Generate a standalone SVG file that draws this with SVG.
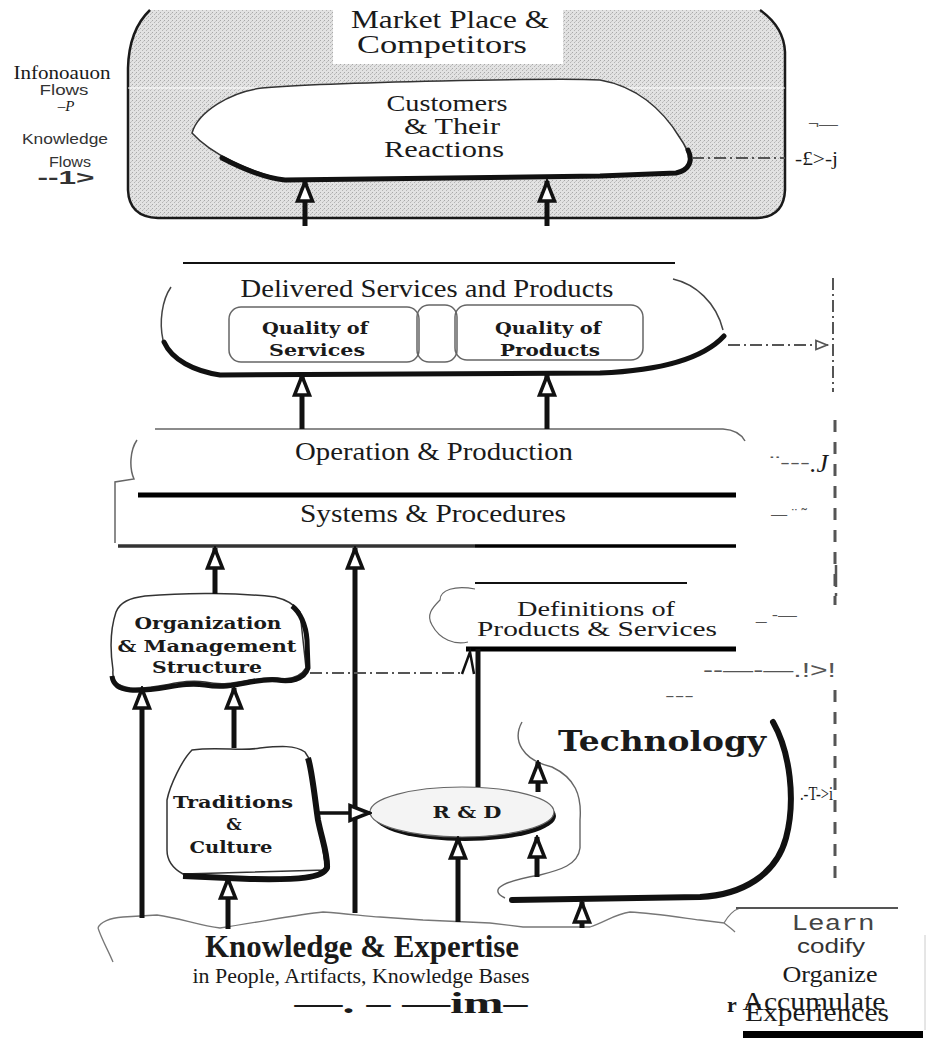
<svg xmlns="http://www.w3.org/2000/svg" width="926" height="1038" viewBox="0 0 926 1038">
  <defs>
    <style>
      .serif { font-family: "Liberation Serif", "Times New Roman", serif; fill: #1a1a1a; }
      .bold { font-family: "DejaVu Serif", "Liberation Serif", serif; font-weight: bold; fill: #1a1a1a; }
      .sans { font-family: "Liberation Sans", Arial, sans-serif; fill: #333; }
      .mono { font-family: "Liberation Mono", "Courier New", monospace; fill: #444; }
      .junk { font-family: "Liberation Sans", Arial, sans-serif; fill: #555; }
      .thin { fill: none; stroke: #444; stroke-width: 1.5; }
      .thick { fill: none; stroke: #111; stroke-width: 5; stroke-linecap: round; stroke-linejoin: round; }
      .shaft { fill: none; stroke: #111; stroke-width: 5; }
      .flow { fill: none; stroke: #555; stroke-width: 2; stroke-dasharray: 12 4 2 4; }
      .vdash { fill: none; stroke: #555; stroke-width: 3; stroke-dasharray: 12 10; }
      .rule { fill: none; stroke: #111; stroke-width: 2; }
      .inner { fill: none; stroke: #666; stroke-width: 1.5; }
    </style>
    <!-- stippled screen used for the market place background -->
    <pattern id="stipple" width="4" height="4" patternUnits="userSpaceOnUse">
      <rect width="4" height="4" fill="#e2e2e2"/>
      <rect x="0" y="0" width="1" height="1" fill="#a8a8a8"/>
      <rect x="2" y="2" width="1" height="1" fill="#b4b4b4"/>
      <rect x="3" y="1" width="1" height="1" fill="#c6c6c6"/>
    </pattern>
    <marker id="head" viewBox="-23 -11 25 22" markerWidth="25" markerHeight="22" refX="0" refY="0" orient="auto" markerUnits="userSpaceOnUse">
      <path d="M-1,0 L-20,-7.5 L-20,7.5 Z" fill="#fff" stroke="#111" stroke-width="3.5" stroke-linejoin="miter"/>
    </marker>
    <marker id="smallhead" viewBox="-14 -7 16 14" markerWidth="16" markerHeight="14" refX="0" refY="0" orient="auto" markerUnits="userSpaceOnUse">
      <path d="M-1,0 L-12,-4.5 L-12,4.5 Z" fill="#fff" stroke="#555" stroke-width="1.8"/>
    </marker>
  </defs>

  <rect width="926" height="1038" fill="#fff"/>

  <!-- legend on the left -->
  <g id="legend">
    <text class="serif" x="62" y="79" font-size="18" text-anchor="middle" textLength="97" lengthAdjust="spacingAndGlyphs" fill="#333">Infonoauon</text>
    <text class="sans" x="64" y="95" font-size="15" text-anchor="middle" textLength="49" lengthAdjust="spacingAndGlyphs">Flows</text>
    <text class="serif" x="66" y="111" font-size="15" font-style="italic" text-anchor="middle" fill="#444">–P</text>
    <text class="sans" x="65" y="144" font-size="15" text-anchor="middle" textLength="86" lengthAdjust="spacingAndGlyphs">Knowledge</text>
    <text class="sans" x="70" y="167" font-size="15" text-anchor="middle" textLength="42" lengthAdjust="spacingAndGlyphs">Flows</text>
    <text class="sans" x="66" y="184" font-size="18" font-weight="bold" text-anchor="middle" textLength="57" lengthAdjust="spacingAndGlyphs" fill="#111">--1&gt;</text>
  </g>

  <!-- market place frame -->
  <g id="market">
    <path d="M150,10 Q129,30 128,68 L128,190 Q129,217 158,218 L757,218 Q784,217 785,190 L785,52 Q784,27 760,10 Z" fill="url(#stipple)"/>
    <path d="M150,10 Q129,30 128,68 L128,190 Q129,217 158,218 L757,218 Q784,217 785,190 L785,52 Q784,27 760,10" fill="none" stroke="#1a1a1a" stroke-width="2.5"/>
    <rect x="333" y="0" width="230" height="64" fill="#fff"/>
    <line x1="128" y1="88" x2="785" y2="88" stroke="#fff" stroke-width="1"/>
    <text class="serif" x="450" y="28" font-size="26" text-anchor="middle" textLength="198" lengthAdjust="spacingAndGlyphs">Market Place &amp;</text>
    <text class="serif" x="442" y="53" font-size="26" text-anchor="middle" textLength="170" lengthAdjust="spacingAndGlyphs">Competitors</text>
  </g>

  <!-- customers -->
  <g id="customers">
    <path d="M192,133 C198,112 230,92 262,88 C330,82 560,78 600,80 C635,86 662,108 680,138 C692,155 692,168 678,173 L600,176 L285,180 C250,172 212,155 192,133 Z" fill="#fff" stroke="#333" stroke-width="1.5"/>
    <path d="M222,158 C245,170 265,178 285,180 L600,176 L676,173 C690,170 693,160 688,150" class="thick"/>
    <text class="serif" x="447" y="111" font-size="24" text-anchor="middle" textLength="121" lengthAdjust="spacingAndGlyphs">Customers</text>
    <text class="serif" x="452" y="134" font-size="24" text-anchor="middle" textLength="96" lengthAdjust="spacingAndGlyphs">&amp; Their</text>
    <text class="serif" x="444" y="157" font-size="24" text-anchor="middle" textLength="120" lengthAdjust="spacingAndGlyphs">Reactions</text>
  </g>

  <!-- delivered services and products -->
  <g id="delivered">
    <line x1="183" y1="263" x2="675" y2="263" class="rule"/>
    <path d="M171,287 C162,300 159,322 163,340" class="thin"/>
    <path d="M673,279 C695,284 716,302 723,330" class="thin"/>
    <path d="M164,342 C172,360 194,371 220,375 L600,373 C650,371 700,362 724,336" class="thick"/>
    <text class="serif" x="427" y="297" font-size="25" text-anchor="middle" textLength="373" lengthAdjust="spacingAndGlyphs">Delivered Services and Products</text>
    <rect x="229" y="307" width="190" height="55" rx="12" class="inner"/>
    <rect x="417" y="305" width="40" height="57" rx="12" class="inner"/>
    <rect x="455" y="305" width="188" height="55" rx="12" class="inner"/>
    <text class="bold" x="315" y="334" font-size="17" text-anchor="middle" textLength="106" lengthAdjust="spacingAndGlyphs">Quality of</text>
    <text class="bold" x="317" y="356" font-size="17" text-anchor="middle" textLength="96" lengthAdjust="spacingAndGlyphs">Services</text>
    <text class="bold" x="548" y="334" font-size="17" text-anchor="middle" textLength="106" lengthAdjust="spacingAndGlyphs">Quality of</text>
    <text class="bold" x="550" y="356" font-size="17" text-anchor="middle" textLength="100" lengthAdjust="spacingAndGlyphs">Products</text>
  </g>

  <!-- operation & production / systems & procedures -->
  <g id="operation">
    <path d="M155,429 L723,429 Q739,430 745,441" fill="none" stroke="#666" stroke-width="1.5"/>
    <path d="M137,440 C130,450 129,468 134,479 L115,482 L115,543" fill="none" stroke="#666" stroke-width="1.5"/>
    <line x1="138" y1="495" x2="736" y2="495" stroke="#000" stroke-width="5"/>
    <line x1="118" y1="546" x2="475" y2="546" stroke="#333" stroke-width="3.5"/>
    <line x1="475" y1="546" x2="736" y2="546" stroke="#000" stroke-width="3.5"/>
    <text class="serif" x="434" y="460" font-size="25" text-anchor="middle" textLength="278" lengthAdjust="spacingAndGlyphs">Operation &amp; Production</text>
    <text class="serif" x="433" y="522" font-size="25" text-anchor="middle" textLength="266" lengthAdjust="spacingAndGlyphs">Systems &amp; Procedures</text>
  </g>

  <!-- definitions of products & services -->
  <g id="definitions">
    <line x1="475" y1="583" x2="687" y2="583" class="rule"/>
    <path d="M475,589 C455,585 440,590 440,600 C432,608 426,615 432,625 C440,640 455,645 468,642" fill="none" stroke="#666" stroke-width="1.2"/>
    <line x1="466" y1="649" x2="736" y2="649" stroke="#000" stroke-width="5"/>
    <text class="serif" x="596" y="616" font-size="21" text-anchor="middle" textLength="158" lengthAdjust="spacingAndGlyphs">Definitions of</text>
    <text class="serif" x="597" y="636" font-size="21" text-anchor="middle" textLength="240" lengthAdjust="spacingAndGlyphs">Products &amp; Services</text>
  </g>

  <!-- organization & management structure -->
  <g id="organization">
    <path d="M116,612 C120,602 130,598 145,596 C190,592 240,593 275,597 C288,600 295,605 300,612 L306,668 C300,678 290,680 277,678 C250,676 235,688 205,682 C180,678 160,690 130,688 C116,686 112,680 113,670 C110,650 110,630 116,612 Z" fill="#fff" stroke="#333" stroke-width="1.5"/>
    <path d="M292,606 C300,612 306,625 307,640 L308,668 C304,680 290,682 277,680 C250,678 235,690 205,685 C180,681 160,692 130,690 C118,689 113,684 112,676" fill="none" stroke="#111" stroke-width="5" stroke-linejoin="round"/>
    <text class="bold" x="208" y="629" font-size="17" text-anchor="middle" textLength="147" lengthAdjust="spacingAndGlyphs">Organization</text>
    <text class="bold" x="207" y="652" font-size="17" text-anchor="middle" textLength="179" lengthAdjust="spacingAndGlyphs">&amp; Management</text>
    <text class="bold" x="207" y="673" font-size="17" text-anchor="middle" textLength="110" lengthAdjust="spacingAndGlyphs">Structure</text>
  </g>

  <!-- traditions & culture -->
  <g id="traditions">
    <path d="M192,750 C220,746 240,752 260,748 C280,746 295,745 305,752 L310,760 L326,870 L183,874 C172,868 167,860 167,850 L167,800 C170,785 182,760 192,750 Z" fill="#fff" stroke="#333" stroke-width="1.5"/>
    <path d="M308,758 C312,770 315,800 318,820 C322,840 328,855 327,868 C322,878 300,880 250,879 L183,876" fill="none" stroke="#111" stroke-width="6" stroke-linejoin="round"/>
    <text class="bold" x="233" y="808" font-size="17" text-anchor="middle" textLength="120" lengthAdjust="spacingAndGlyphs">Traditions</text>
    <text class="bold" x="234" y="830" font-size="17" text-anchor="middle">&amp;</text>
    <text class="bold" x="231" y="853" font-size="17" text-anchor="middle" textLength="83" lengthAdjust="spacingAndGlyphs">Culture</text>
  </g>

  <!-- R & D -->
  <g id="rnd">
    <ellipse cx="465" cy="816" rx="91" ry="25" fill="#111"/>
    <ellipse cx="462" cy="812" rx="92" ry="25" fill="#f4f4f4" stroke="#666" stroke-width="1.2"/>
    <text class="bold" x="467" y="818" font-size="17" text-anchor="middle" textLength="69" lengthAdjust="spacingAndGlyphs">R &amp; D</text>
  </g>

  <!-- technology -->
  <g id="technology">
    <path d="M522,722 C512,740 522,760 552,767 C575,778 582,795 580,820 L580,848 C578,865 560,870 540,875 C510,880 485,888 505,898" fill="none" stroke="#666" stroke-width="1.4"/>
    <path d="M773,722 C790,752 796,800 786,838 C776,875 742,895 700,897 L512,900" fill="none" stroke="#111" stroke-width="6" stroke-linecap="round"/>
    <text class="bold" x="662" y="751" font-size="27" text-anchor="middle" textLength="208" lengthAdjust="spacingAndGlyphs">Technology</text>
  </g>

  <!-- knowledge & expertise -->
  <g id="knowledge">
    <path d="M98,928 C100,922 110,918 123,917 L157,915 C180,918 200,926 220,928 C260,922 300,914 323,912 C350,914 365,916 380,917 L423,920 L490,923 L523,927 L590,927 C605,922 615,914 630,912 C650,913 670,916 700,920 L724,923 C728,916 734,910 740,908 M724,923 C728,926 732,929 735,932" fill="none" stroke="#777" stroke-width="1.3"/>
    <path d="M98,928 C102,940 108,950 113,962" fill="none" stroke="#777" stroke-width="1.3"/>
    <text class="serif" x="362" y="957" font-size="31" font-weight="bold" text-anchor="middle" textLength="314" lengthAdjust="spacingAndGlyphs">Knowledge &amp; Expertise</text>
    <text class="serif" x="361" y="983" font-size="21" text-anchor="middle" textLength="337" lengthAdjust="spacingAndGlyphs">in People, Artifacts, Knowledge Bases</text>
    <text class="serif" x="411" y="1013" font-size="30" font-weight="bold" text-anchor="middle" textLength="233" lengthAdjust="spacingAndGlyphs">—. – —im–</text>
  </g>

  <!-- learning cycle notes -->
  <g id="learn">
    <line x1="736" y1="908" x2="898" y2="908" stroke="#555" stroke-width="2"/>
    <line x1="925" y1="935" x2="925" y2="1030" stroke="#ccc" stroke-width="1"/>
    <text class="mono" x="833" y="930" font-size="22" text-anchor="middle" textLength="83" lengthAdjust="spacingAndGlyphs">Learn</text>
    <text class="sans" x="831" y="953" font-size="20" text-anchor="middle" textLength="68" lengthAdjust="spacingAndGlyphs">codify</text>
    <text class="serif" x="830" y="982" font-size="24" text-anchor="middle" textLength="95" lengthAdjust="spacingAndGlyphs" fill="#333">Organize</text>
    <text class="serif" x="727" y="1012" font-size="22" font-weight="bold" fill="#222">r</text>
    <text class="serif" x="814" y="1010" font-size="25" text-anchor="middle" textLength="143" lengthAdjust="spacingAndGlyphs" fill="#555">Accumulate</text>
    <text class="serif" x="817" y="1021" font-size="25" text-anchor="middle" textLength="144" lengthAdjust="spacingAndGlyphs" fill="#555">Experiences</text>
    <rect x="743" y="1031" width="180" height="7" fill="#000"/>
  </g>

  <!-- stray flow labels along the right margin -->
  <g id="margin-notes">
    <text class="junk" x="808" y="129" font-size="14" textLength="30" lengthAdjust="spacingAndGlyphs">¬—</text>
    <text class="serif" x="795" y="165" font-size="18" textLength="43" lengthAdjust="spacingAndGlyphs" fill="#666">-£&gt;-j</text>
    <text class="junk" x="770" y="468" font-size="16" textLength="40" lengthAdjust="spacingAndGlyphs">¨---</text>
    <text class="serif" x="810" y="472" font-size="26" font-style="italic" fill="#555">.J</text>
    <text class="junk" x="771" y="519" font-size="14" textLength="36" lengthAdjust="spacingAndGlyphs">— ¨ ˜</text>
    <text class="junk" x="756" y="620" font-size="14" textLength="41" lengthAdjust="spacingAndGlyphs">_ -—</text>
    <text class="junk" x="703" y="677" font-size="20" textLength="133" lengthAdjust="spacingAndGlyphs">--—-—.!&gt;!</text>
    <text class="junk" x="665" y="701" font-size="14" textLength="29" lengthAdjust="spacingAndGlyphs">---</text>
    <text class="serif" x="800" y="800" font-size="18" textLength="33" lengthAdjust="spacingAndGlyphs" fill="#555">.-T-&gt;i</text>
  </g>

  <!-- connectors -->
  <g id="connectors">
    <!-- knowledge flows (solid, hollow heads) -->
    <line x1="305" y1="226" x2="305" y2="181" class="shaft" marker-end="url(#head)"/>
    <line x1="547" y1="226" x2="547" y2="181" class="shaft" marker-end="url(#head)"/>
    <line x1="302" y1="429" x2="302" y2="375" class="shaft" marker-end="url(#head)"/>
    <line x1="547" y1="429" x2="547" y2="375" class="shaft" marker-end="url(#head)"/>
    <line x1="215" y1="594" x2="215" y2="548" class="shaft" marker-end="url(#head)"/>
    <line x1="355" y1="913" x2="355" y2="548" class="shaft" marker-end="url(#head)"/>
    <line x1="142" y1="918" x2="142" y2="688" class="shaft" marker-end="url(#head)"/>
    <line x1="234" y1="748" x2="234" y2="688" class="shaft" marker-end="url(#head)"/>
    <line x1="228" y1="929" x2="228" y2="878" class="shaft" marker-end="url(#head)"/>
    <line x1="318" y1="813" x2="370" y2="813" stroke="#111" stroke-width="3.5" marker-end="url(#head)"/>
    <line x1="458" y1="922" x2="458" y2="838" class="shaft" marker-end="url(#head)"/>
    <line x1="537" y1="877" x2="537" y2="837" class="shaft" marker-end="url(#head)"/>
    <line x1="538" y1="792" x2="538" y2="762" class="shaft" marker-end="url(#head)"/>
    <line x1="582" y1="928" x2="582" y2="902" class="shaft" marker-end="url(#head)"/>
    <line x1="478" y1="649" x2="478" y2="787" class="shaft"/>

    <!-- information flows (dash-dot) -->
    <line x1="692" y1="158" x2="785" y2="158" class="flow"/>
    <line x1="728" y1="345" x2="828" y2="345" class="flow" marker-end="url(#smallhead)"/>
    <line x1="310" y1="673" x2="464" y2="673" class="flow" stroke-width="1.5"/>
    <path d="M462,674 L470,652 L474,674" fill="none" stroke="#111" stroke-width="2.5"/>
    <line x1="833" y1="278" x2="833" y2="392" class="flow"/>
    <line x1="835" y1="420" x2="835" y2="605" class="vdash"/>
    <line x1="836" y1="565" x2="836" y2="600" stroke="#555" stroke-width="2.5" stroke-dasharray="22 6 3 40"/>
    <line x1="835" y1="690" x2="835" y2="885" class="vdash" stroke-width="2.5" stroke-dasharray="14 8 4 8"/>
  </g>
</svg>
